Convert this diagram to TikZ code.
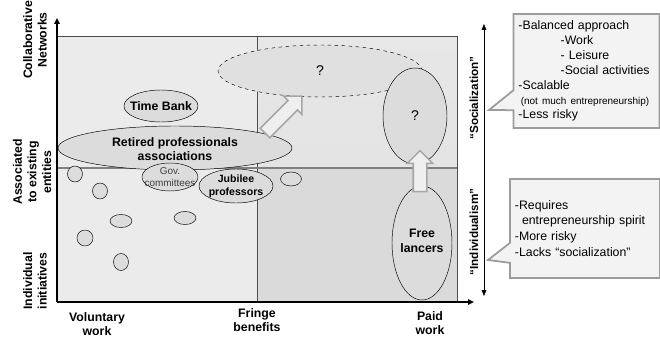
\documentclass[tikz,border=0pt]{standalone}
\usepackage{fontspec}
\setmainfont{Liberation Sans}
\usetikzlibrary{shapes.geometric,shapes.arrows,shapes.callouts,arrows.meta,positioning}
\definecolor{leftfill}{HTML}{EBEBEB}
\definecolor{toprfill}{HTML}{E4E4E4}
\definecolor{lowfill}{HTML}{DADADA}
\definecolor{blobgray}{HTML}{DCDCDC}
\definecolor{arrowgray}{HTML}{A6A6A6}
\definecolor{arrowfill}{HTML}{EFEFEF}
\definecolor{notegray}{HTML}{9C9C9C}
\definecolor{notefill}{HTML}{F3F3F3}

\begin{document}
\begin{tikzpicture}[x=0.03cm,y=-0.03cm]
    \tikzstyle{every node}+=[inner sep=0pt]
    \tikzstyle{blob}=[ellipse, draw=black, fill=blobgray, line width=0.4pt]
    \tikzstyle{boldlbl}=[font=\fontsize{10.5}{12.5}\selectfont\bfseries, align=center]
    \tikzstyle{sidelbl}=[font=\fontsize{10}{12}\selectfont\bfseries, rotate=90]
    \tikzstyle{axis}=[line width=1.5pt, -{Triangle[length=5pt,width=4.5pt]}]
    \tikzstyle{sidearrow}=[line width=0.6pt, -{Triangle[length=5pt,width=4pt]}]
    \tikzstyle{bigarrow}=[single arrow, draw=arrowgray, fill=arrowfill, line width=1.3pt, inner xsep=0pt, inner ysep=0.18cm, minimum width=0pt, single arrow head extend=0.18cm, single arrow tip angle=90, single arrow head indent=0pt]
    \tikzstyle{note}=[rectangle callout, draw=notegray, fill=notefill, line width=1.5pt, align=left, inner xsep=0.15cm, callout pointer width=0.6cm]
    \useasboundingbox (0,0) rectangle (660,337);
    \fill [leftfill] (57,36) rectangle (257,302);
    \shade [top color=toprfill!60!leftfill, bottom color=toprfill] (257,36) rectangle (457,168);
    \fill [lowfill] (257,168) rectangle (457,302);
    \draw [black!70, line width=0.5pt] (57,36) -- (457,36) -- (457,302);
    \draw [black!70, line width=0.5pt] (257,36) -- (257,302);
    \draw [black!50, line width=1.5pt] (57,168) -- (457,168);
    \coordinate (o) at (57,302);
    \coordinate (ytop) at (57,18);
    \coordinate (xend) at (474,302);
    \draw [axis] (o) -- (ytop);
    \draw [axis] (o) -- (xend);
    \node [boldlbl, rotate=90] (collab) at (35,40) {Collaborative\\Networks};
    \node [boldlbl, rotate=90] (assoc) at (32,172) {Associated\\to existing\\entities};
    \node [boldlbl, rotate=90] (indiv) at (35,281) {Individual\\initiatives};
    \node [boldlbl] (voluntary) at (97,324) {Voluntary\\work};
    \node [boldlbl] (fringe) at (257,320) {Fringe\\benefits};
    \node [boldlbl] (paid) at (430,323) {Paid\\work};
    \node [blob, dashed, fill=blobgray!70!leftfill, minimum width=6.12cm, minimum height=1.56cm] (netq) at (320,71) {};
    \node [font=\fontsize{12}{14}\selectfont] at (netq) {?};
    \node [blob, minimum width=1.92cm, minimum height=2.88cm] (socq) at (415,116) {};
    \node [font=\fontsize{12}{14}\selectfont] at (socq) {?};
    \node [blob, minimum width=1.8cm, minimum height=3.42cm] (free) at (422,243) {};
    \node [boldlbl] at (422,241) {Free\\lancers};
    \node [blob, minimum width=2.22cm, minimum height=0.96cm] (timebank) at (161,106) {};
    \node [boldlbl] at (timebank) {Time Bank};
    \node [blob, minimum width=7.02cm, minimum height=1.32cm] (retired) at (175,148) {};
    \node [boldlbl] at (175,149) {Retired professionals\\associations};
    \node [blob, minimum width=1.68cm, minimum height=0.84cm] (gov) at (170,177) {};
    \node [font=\fontsize{8.5}{10}\selectfont, text=black!75, align=center] at (gov) {Gov.\\committees};
    \node [blob, minimum width=2.22cm, minimum height=1.02cm] (jubilee) at (236,186) {};
    \node [boldlbl, font=\fontsize{9}{11}\selectfont\bfseries] at (jubilee) {Jubilee\\professors};
    \node [blob, minimum width=0.45cm, minimum height=0.48cm] (s1) at (75,174) {};
    \node [blob, minimum width=0.45cm, minimum height=0.48cm] (s2) at (100,191) {};
    \node [blob, minimum width=0.63cm, minimum height=0.42cm] (s3) at (291,179) {};
    \node [blob, minimum width=0.66cm, minimum height=0.39cm] (s4) at (121,221) {};
    \node [blob, minimum width=0.66cm, minimum height=0.39cm] (s5) at (185,218) {};
    \node [blob, minimum width=0.48cm, minimum height=0.48cm] (s6) at (85,238) {};
    \node [blob, minimum width=0.45cm, minimum height=0.51cm] (s7) at (121,262) {};
    \node [bigarrow, rotate=45, minimum height=1.56cm] (toNet) at (281,117) {};
    \node [bigarrow, rotate=90, minimum height=1.23cm] (toSoc) at (420,174.5) {};
    \coordinate (mid) at (484,168);
    \coordinate (stop) at (484,24);
    \coordinate (sbot) at (484,296);
    \draw [sidearrow] (mid) -- (stop);
    \draw [sidearrow] (mid) -- (sbot);
    \node [sidelbl] (social) at (474,98) {“Socialization”};
    \node [sidelbl] (individual) at (474,232) {“Individualism”};
    \node [note, text width=4.08cm, minimum height=3.42cm, font=\fontsize{10.5}{12.75}\selectfont, callout absolute pointer={(489,110)}] (upnote) at (586.5,71) {-Balanced approach\\\hspace*{36pt}-Work\\\hspace*{36pt}- Leisure\\\hspace*{36pt}-Social activities\\-Scalable\\{\fontsize{8.5}{10}\selectfont\hspace*{2pt}(not much entrepreneurship)}\\-Less risky};
    \node [note, text width=4.2cm, minimum height=2.97cm, font=\fontsize{10.5}{13.5}\selectfont, callout absolute pointer={(488,260)}] (downnote) at (585,228.5) {-Requires\\\hspace*{6pt}entrepreneurship spirit\\-More risky\\-Lacks “socialization”};
\end{tikzpicture}
\end{document}
